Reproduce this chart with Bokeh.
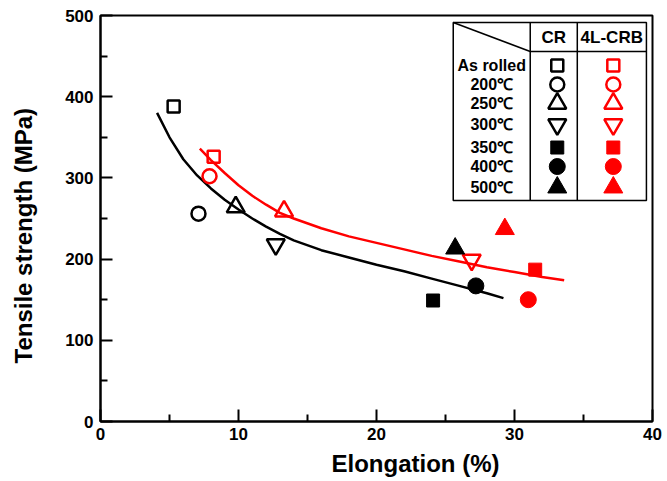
from bokeh.plotting import figure
from bokeh.models import Range1d, FixedTicker, Title, LinearAxis
from bokeh.core.properties import value
from bokeh.embed import file_html
from bokeh.resources import INLINE

# ---------------- data ----------------
conditions = ["As rolled", "200℃", "250℃", "300℃", "350℃", "400℃", "500℃"]
markers = ["square", "circle", "triangle", "inverted_triangle", "square", "circle", "triangle"]
filled = [False, False, False, False, True, True, True]

cr_elong = [5.3, 7.1, 9.8, 12.7, 24.1, 27.2, 25.7]
cr_ts = [388, 256, 264, 218, 149, 167, 213]
crb_elong = [8.2, 7.9, 13.3, 26.9, 31.5, 31.0, 29.3]
crb_ts = [326, 302, 259, 199, 187, 150, 237]

# trend curves
cr_fit_x = [4.1, 5, 6, 7, 8, 9, 10, 11, 12, 13, 14, 16, 18, 20, 22, 24, 26, 28, 29.2]
cr_fit_y = [380, 350, 323, 303, 287, 273, 261, 250, 240, 231, 223, 211, 202, 193, 185, 176, 167, 158, 152]
crb_fit_x = [7.2, 8, 9, 10, 11, 12, 13, 14, 16, 18, 20, 22, 24, 26, 28, 30, 32, 33.6]
crb_fit_y = [336, 322, 306, 291, 278, 267, 257, 250, 238, 228, 220, 212, 204, 197, 190, 184, 178, 174]

x_ticks = [0, 10, 20, 30, 40]
x_minor = [5, 15, 25, 35]
y_ticks = [0, 100, 200, 300, 400, 500]
y_minor = [50, 150, 250, 350, 450]

series_names = ["CR", "4L-CRB"]
series_colors = ["black", "red"]
x_title = "Elongation (%)"
y_title = "Tensile strength (MPa)"

FONT = value("Liberation Sans")

p = figure(width=667, height=481, output_backend="svg", toolbar_location=None,
           x_range=Range1d(0, 40), y_range=Range1d(0, 500),
           min_border_left=100, min_border_right=15, min_border_top=15, min_border_bottom=60)
p.xgrid.visible = False
p.ygrid.visible = False
p.outline_line_color = "black"
p.outline_line_width = 2
p.outline_line_alpha = 1.0
p.background_fill_color = "white"
p.border_fill_color = "white"

p.xaxis.ticker = FixedTicker(ticks=x_ticks, minor_ticks=x_minor)
p.yaxis.ticker = FixedTicker(ticks=y_ticks, minor_ticks=y_minor)
for ax in (p.xaxis, p.yaxis):
    ax.axis_line_width = 2
    ax.axis_line_color = "black"
    ax.major_tick_in = 12
    ax.major_tick_out = 0
    ax.minor_tick_in = 7
    ax.minor_tick_out = 0
    ax.major_tick_line_width = 2
    ax.minor_tick_line_width = 2
    ax.major_tick_line_color = "black"
    ax.minor_tick_line_color = "black"
    ax.major_label_text_font = "Liberation Sans"
    ax.major_label_text_font_style = "bold"
    ax.major_label_text_font_size = "17px"
    ax.major_label_text_color = "black"
p.xaxis.major_label_standoff = 6
p.yaxis.major_label_standoff = 7

# trend curves
p.line(cr_fit_x, cr_fit_y, line_color="black", line_width=2.5)
p.line(crb_fit_x, crb_fit_y, line_color="red", line_width=2.5)

sizes = {"square": 12, "circle": 14, "triangle": 18, "inverted_triangle": 18}
filled_sizes = {"square": 13, "circle": 16, "triangle": 19}

def draw_marker(x, y, mk, fill, color):
    if fill:
        p.scatter([x], [y], marker=mk, size=filled_sizes[mk], fill_color=color,
                  line_color=color, line_width=1)
    else:
        p.scatter([x], [y], marker=mk, size=sizes[mk], fill_color=None,
                  line_color=color, line_width=2.5)

for i in range(len(conditions)):
    draw_marker(cr_elong[i], cr_ts[i], markers[i], filled[i], series_colors[0])
    draw_marker(crb_elong[i], crb_ts[i], markers[i], filled[i], series_colors[1])

# ---------------- legend table ----------------
tl, tr, tb, tt = 25.56, 39.56, 272.2, 491.4
c1, c2 = 31.14, 34.55
hy = 455.7
p.quad(left=[tl], right=[tr], bottom=[tb], top=[tt], fill_color="white",
       line_color="black", line_width=1.5)
p.segment(x0=[c1, c2, c1, tl], y0=[tb, tb, hy, tt], x1=[c1, c2, tr, c1], y1=[tt, tt, hy, hy],
          line_color="black", line_width=1.5)

row_y = [438.4, 415.0, 391.6, 365.8, 337.4, 314.0, 288.2]
col_x = [33.1, 37.16]
p.text(x=[32.85, 37.05], y=[473, 473], text=series_names, text_font=FONT,
       text_font_style="bold", text_font_size="17px", text_align="center",
       text_baseline="middle", text_color="black")
p.text(x=[28.35] * len(conditions), y=row_y, text=conditions, text_font=FONT,
       text_font_style="bold", text_font_size="16px", text_align="center",
       text_baseline="middle", text_color="black")
for i in range(len(conditions)):
    for j in range(2):
        draw_marker(col_x[j], row_y[i], markers[i], filled[i], series_colors[j])

# invisible spacer axes (one hidden tick each) to push the axis titles outward
def spacer(width, mid):
    return LinearAxis(ticker=FixedTicker(ticks=[mid], minor_ticks=[]), major_tick_out=width,
                      major_tick_in=0, major_tick_line_alpha=0, minor_tick_out=0, minor_tick_in=0,
                      axis_line_color=None, major_label_standoff=0,
                      major_label_overrides={mid: ""}, major_label_text_font_size="1px",
                      major_label_text_alpha=0)

p.add_layout(spacer(4, 20), "below")
p.add_layout(spacer(16, 250), "left")

# axis titles (as side titles so they can be shifted along the axis)
p.add_layout(Title(text=x_title, align="left", offset=231, standoff=2, vertical_align="bottom",
                   text_font="Liberation Sans", text_font_style="bold",
                   text_font_size="24px", text_color="black"), "below")
p.add_layout(Title(text=y_title, align="left", offset=58, standoff=16, vertical_align="top",
                   text_font="Liberation Sans", text_font_style="bold",
                   text_font_size="24px", text_color="black"), "left")

open("out.html", "w").write(file_html(p, INLINE))
